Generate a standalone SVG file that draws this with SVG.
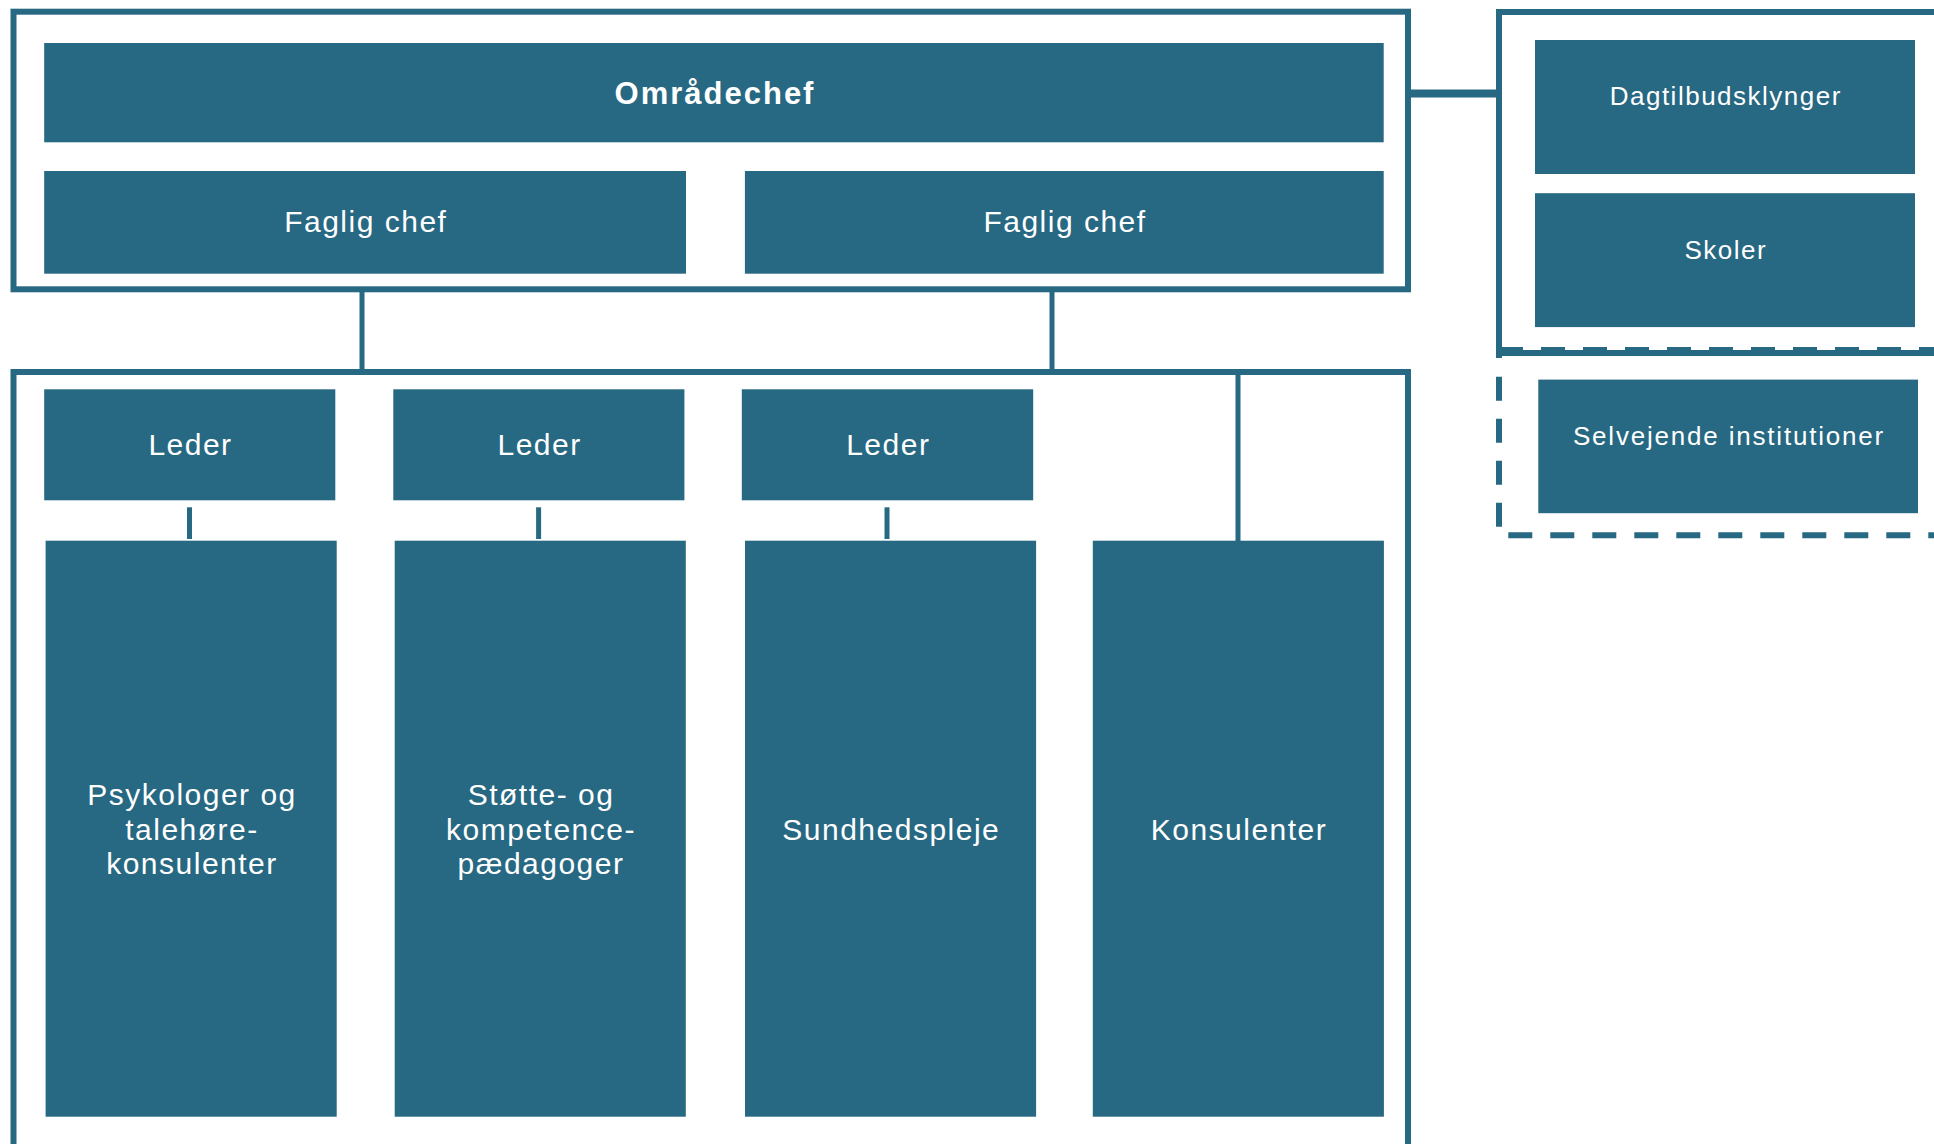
<svg xmlns="http://www.w3.org/2000/svg" width="1934" height="1144" viewBox="0 0 1934 1144">
<style>
.box{fill:#276882}
.frame{fill:none;stroke:#276882;stroke-width:6}
.dash{fill:none;stroke:#276882;stroke-width:6;stroke-dasharray:24 18}
.conn{fill:none;stroke:#276882;stroke-width:5}
.t{font-family:"Liberation Sans",Arial,sans-serif;fill:#ffffff;text-anchor:middle;font-size:30px;letter-spacing:1.5px}
.tb{font-family:"Liberation Sans",Arial,sans-serif;fill:#ffffff;text-anchor:middle;font-size:31px;font-weight:bold;letter-spacing:2px}
.tr{font-family:"Liberation Sans",Arial,sans-serif;fill:#ffffff;text-anchor:middle;font-size:26px;letter-spacing:1.5px}
</style>
<rect width="1934" height="1144" fill="#ffffff"/>
<g id="frames">
<rect class="frame" x="13.5" y="11.7" width="1394.5" height="277.6"/>
<path class="frame" d="M13.5,1150 V372 H1408 V1150"/>
<path class="frame" d="M1940,12 H1499 V358"/>
<path class="frame" d="M1499,353 H1940"/>
<path class="dash" d="M1499,350 H1940"/>
<path class="dash" d="M1499,376.7 V527"/>
<path class="dash" d="M1508.3,535.3 H1940"/>
</g>
<g id="connectors">
<path class="conn" d="M362,289 V372"/>
<path class="conn" d="M1052,289 V372"/>
<path class="conn" d="M1238,372 V541"/>
<path class="conn" d="M189.5,507.3 V539"/>
<path class="conn" d="M538.6,507.3 V539"/>
<path class="conn" d="M887,507.3 V539"/>
<path fill="none" stroke="#276882" stroke-width="8" d="M1408,93.5 H1499"/>
</g>
<g id="omraadechef"><rect class="box" x="44.2" y="43" width="1339.5" height="99.3"/><text class="tb" x="715" y="104">Områdechef</text></g>
<g id="faglig1"><rect class="box" x="44.2" y="171" width="641.8" height="102.7"/><text class="t" x="365.8" y="232.3">Faglig chef</text></g>
<g id="faglig2"><rect class="box" x="744.9" y="171" width="638.8" height="102.7"/><text class="t" x="1065" y="232.3">Faglig chef</text></g>
<g id="dagtilbud"><rect class="box" x="1535" y="40" width="380" height="134"/><text class="tr" x="1725.8" y="105">Dagtilbudsklynger</text></g>
<g id="skoler"><rect class="box" x="1535" y="193.2" width="380" height="133.9"/><text class="tr" x="1725.8" y="259">Skoler</text></g>
<g id="selvejende"><rect class="box" x="1538.3" y="379.6" width="379.7" height="133.6"/><text class="tr" style="letter-spacing:1.8px" x="1729" y="444.6">Selvejende institutioner</text></g>
<g id="leder1"><rect class="box" x="44.2" y="389.3" width="291.1" height="111"/><text class="t" x="190.5" y="455">Leder</text></g>
<g id="leder2"><rect class="box" x="393.3" y="389.3" width="291.1" height="111"/><text class="t" x="539.6" y="455">Leder</text></g>
<g id="leder3"><rect class="box" x="741.8" y="389.3" width="291.4" height="111"/><text class="t" x="888.3" y="455">Leder</text></g>
<g id="psykologer"><rect class="box" x="45.6" y="540.7" width="291.1" height="576"/><text class="t" x="192" y="805">Psykologer og</text><text class="t" x="192" y="839.5">talehøre-</text><text class="t" x="192" y="874">konsulenter</text></g>
<g id="stoette"><rect class="box" x="394.7" y="540.7" width="291.1" height="576"/><text class="t" x="541" y="805">Støtte- og</text><text class="t" x="541" y="839.5">kompetence-</text><text class="t" x="541" y="874">pædagoger</text></g>
<g id="sundhedspleje"><rect class="box" x="745" y="540.7" width="291.1" height="576"/><text class="t" x="891.3" y="839.5">Sundhedspleje</text></g>
<g id="konsulenter"><rect class="box" x="1092.8" y="540.7" width="291.1" height="576"/><text class="t" x="1239" y="839.5">Konsulenter</text></g>
</svg>
